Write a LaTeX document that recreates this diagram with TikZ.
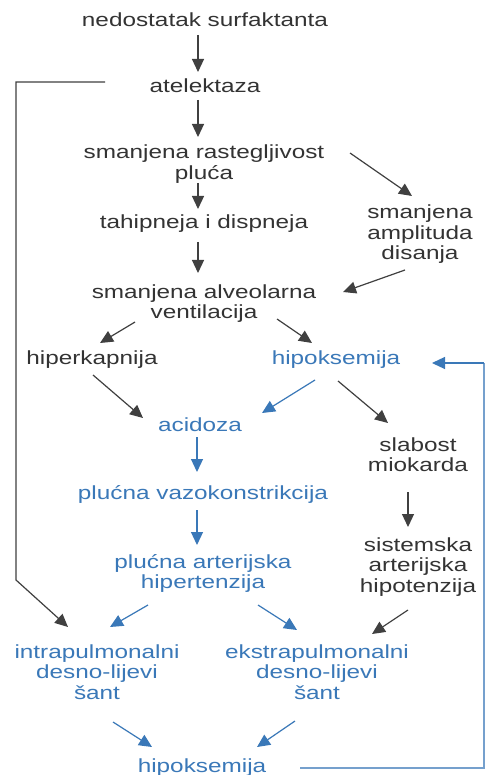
\documentclass[tikz,border=0pt]{standalone}
\usepackage{fontspec}
\newfontfamily\dfont{Liberation Sans}[FakeStretch=1.28]
\usetikzlibrary{arrows.meta}
\definecolor{txtgray}{HTML}{333333}
\definecolor{lingray}{HTML}{404040}
\definecolor{bl}{HTML}{3A78B8}
\begin{document}
\begin{tikzpicture}[x=1pt,y=-1pt,
  lbl/.style={anchor=base,inner sep=0pt,align=center,text=txtgray,
    font=\dfont\fontsize{19}{20.5}\selectfont},
  blbl/.style={lbl,text=bl},
  arr/.style={draw=lingray,line width=1.2pt,-{Triangle[length=13pt,width=12pt]}},
  barr/.style={draw=bl,line width=1.2pt,-{Triangle[length=13pt,width=12pt]}},
  bline/.style={draw=bl!70,line width=1.2pt}]
\useasboundingbox[fill=white] (0,0) rectangle (486,775);

\node[lbl] (ned) at (205,27) {nedostatak surfaktanta};
\node[lbl] (atel) at (205,93) {atelektaza};
\node[lbl] (rast) at (204,179.5) {smanjena rastegljivost\\pluća};
\node[lbl] (tahi) at (204,229) {tahipneja i dispneja};
\node[lbl] (ampl) at (420,260) {smanjena\\amplituda\\disanja};
\node[lbl] (alv) at (204,318.5) {smanjena alveolarna\\ventilacija};
\node[lbl] (hiperk) at (92,364) {hiperkapnija};
\node[blbl] (hipoks) at (336,364) {hipoksemija};
\node[blbl] (acid) at (200,431) {acidoza};
\node[lbl] (slab) at (418,471.5) {slabost\\miokarda};
\node[blbl] (vazo) at (203,499) {plućna vazokonstrikcija};
\node[blbl] (hiper) at (203,588.5) {plućna arterijska\\hipertenzija};
\node[lbl] (sist) at (418,592) {sistemska\\arterijska\\hipotenzija};
\node[blbl] (intra) at (97,699) {intrapulmonalni\\desno-lijevi\\šant};
\node[blbl] (ekstra) at (317,699) {ekstrapulmonalni\\desno-lijevi\\šant};
\node[blbl] (hipoksB) at (202,772) {hipoksemija};

\coordinate (lc1) at (16,82);
\coordinate (lc2) at (16,580);
\coordinate (rc1) at (484,768);
\coordinate (rc2) at (484,363);

\draw[arr] ([shift={(-7,8)}]ned.base) -- ([shift={(-7,-21)}]atel.base);
\draw[arr] ([shift={(-7,7)}]atel.base) -- ([shift={(-6,-42.5)}]rast.base);
\draw[arr] ([shift={(146,-26.5)}]rast.base) -- ([shift={(-8,-64)}]ampl.base);
\draw[arr] ([shift={(-6,3.5)}]rast.base) -- ([shift={(-6,-20)}]tahi.base);
\draw[arr] ([shift={(-6,13)}]tahi.base) -- ([shift={(-6,-45.5)}]alv.base);
\draw[arr] ([shift={(-15,10)}]ampl.base) -- ([shift={(139,-26.5)}]alv.base);
\draw[arr] ([shift={(-69,3.5)}]alv.base) -- ([shift={(8,-21)}]hiperk.base);
\draw[arr] ([shift={(73,0.5)}]alv.base) -- ([shift={(-24,-21)}]hipoks.base);
\draw[arr] ([shift={(1,11)}]hiperk.base) -- ([shift={(-57,-13)}]acid.base);
\draw[barr] ([shift={(-21,16)}]hipoks.base) -- ([shift={(62,-18)}]acid.base);
\draw[arr] ([shift={(2,17)}]hipoks.base) -- ([shift={(-30,-48.5)}]slab.base);
\draw[barr] ([shift={(-3,6)}]acid.base) -- ([shift={(-6,-27)}]vazo.base);
\draw[arr] ([shift={(-10,20.5)}]slab.base) -- ([shift={(-10,-65)}]sist.base);
\draw[barr] ([shift={(-6,11)}]vazo.base) -- ([shift={(-6,-43.5)}]hiper.base);
\draw[arr] ([shift={(-100,-11)}]atel.base) -- (lc1) -- (lc2) -- ([shift={(-29,-72)}]intra.base);
\draw[barr] ([shift={(-55,16.5)}]hiper.base) -- ([shift={(13,-72)}]intra.base);
\draw[barr] ([shift={(55,16.5)}]hiper.base) -- ([shift={(-20,-69)}]ekstra.base);
\draw[arr] ([shift={(-10,18)}]sist.base) -- ([shift={(55,-65)}]ekstra.base);
\draw[barr] ([shift={(16,23)}]intra.base) -- ([shift={(-50,-25)}]hipoksB.base);
\draw[barr] ([shift={(-22,22)}]ekstra.base) -- ([shift={(55,-25)}]hipoksB.base);
\draw[bline] ([shift={(98,-4)}]hipoksB.base) -- (rc1) -- (rc2);
\draw[barr] (rc2) -- ([shift={(96,-1)}]hipoks.base);
\end{tikzpicture}
\end{document}
